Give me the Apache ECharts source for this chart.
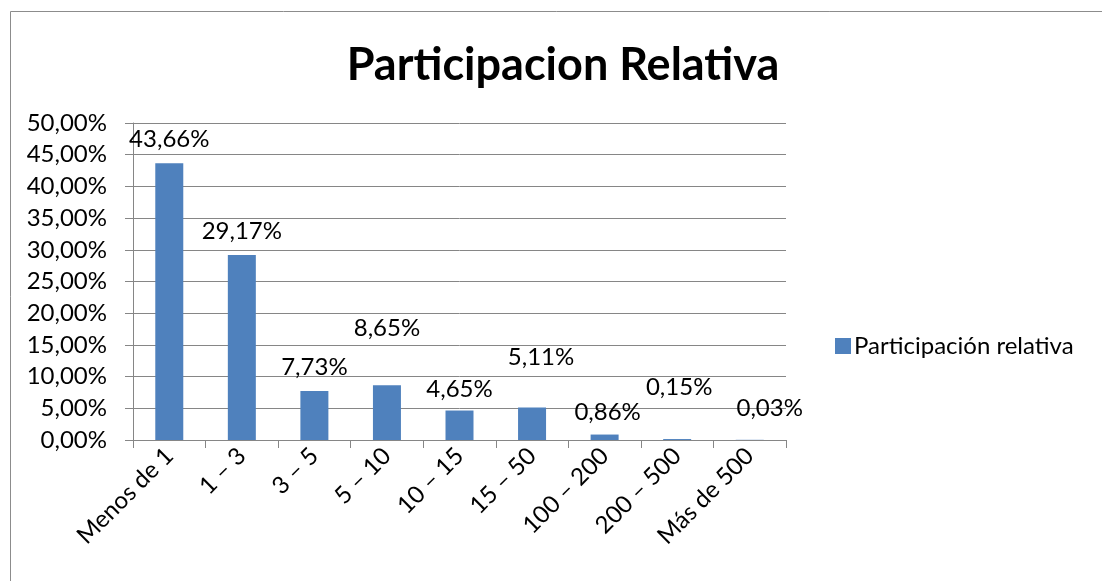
<!DOCTYPE html>
<html>
<head>
<meta charset="utf-8">
<script src="https://cdn.jsdelivr.net/npm/echarts@6/dist/echarts.min.js"></script>
<style>
  html, body { margin: 0; padding: 0; background: #fff; }
  #chart { width: 1102px; height: 581px; }
</style>
</head>
<body>
<div id="chart"></div>
<script>
// datos del grafico
var categorias = ['Menos de 1', '1 – 3', '3 – 5', '5 – 10', '10 – 15', '15 – 50', '100 – 200', '200 – 500', 'Más de 500'];
var participacion = [43.66, 29.17, 7.73, 8.65, 4.65, 5.11, 0.86, 0.15, 0.03];
var ticksY = [0, 5, 10, 15, 20, 25, 30, 35, 40, 45, 50];

// desplazamiento de etiquetas (como quedaron en Excel)
var corrimiento = [[0, 0], [0, 0], [0, 0], [0, -33], [0, 3], [9, -26], [3, 2], [2, -28], [20, -8]];

var fuente = 'Lato, "Open Sans", sans-serif';

function pct(v) {
  return v.toFixed(2).replace('.', ',') + '%';
}

var datos = [];
for (var i = 0; i < participacion.length; i++) {
  datos.push({
    value: participacion[i],
    label: { offset: corrimiento[i] }
  });
}

var chart = echarts.init(document.getElementById('chart'));
chart.setOption({
  animation: false,
  backgroundColor: '#fff',
  title: {
    text: 'Participacion Relativa',
    left: 558, top: 38, textAlign: 'center',
    textStyle: { fontFamily: fuente, fontSize: 45, fontWeight: 'bold', color: '#000' }
  },
  legend: {
    left: 830, top: 329,
    itemWidth: 16, itemHeight: 16, itemGap: 6,
    icon: 'rect',
    textStyle: { fontFamily: fuente, fontSize: 24, color: '#000', padding: [0, 0, 0, -2] },
    data: ['Participación relativa']
  },
  graphic: [{
    type: 'rect', silent: true,
    shape: { x: 10.5, y: 11.5, width: 1100, height: 600 },
    style: { fill: 'none', stroke: '#8c8c8c', lineWidth: 1 }
  }],
  grid: { left: 133, right: 316, top: 123, bottom: 141 },
  xAxis: {
    type: 'category',
    data: categorias,
    axisLine: { lineStyle: { color: '#868686' } },
    axisTick: { show: true, length: 8, alignWithLabel: false, lineStyle: { color: '#868686' } },
    axisLabel: { rotate: 45, margin: 12, interval: 0, fontFamily: fuente, fontSize: 24, color: '#000' }
  },
  yAxis: {
    type: 'value',
    min: 0, max: 50, interval: 5,
    axisLine: { show: true, lineStyle: { color: '#868686' } },
    axisTick: { show: true, length: 8, lineStyle: { color: '#868686' } },
    splitLine: { lineStyle: { color: '#868686' } },
    axisLabel: {
      margin: 26, fontFamily: fuente, fontSize: 24, color: '#000',
      formatter: function (v) { return ticksY.indexOf(v) >= 0 ? pct(v) : ''; }
    }
  },
  series: [{
    name: 'Participación relativa',
    type: 'bar',
    data: datos,
    barWidth: 28,
    itemStyle: { color: '#4f81bd' },
    label: {
      show: true, position: 'top', distance: 12,
      fontFamily: fuente, fontSize: 24, color: '#000',
      formatter: function (p) { return pct(p.value); }
    }
  }]
});
</script>
</body>
</html>
